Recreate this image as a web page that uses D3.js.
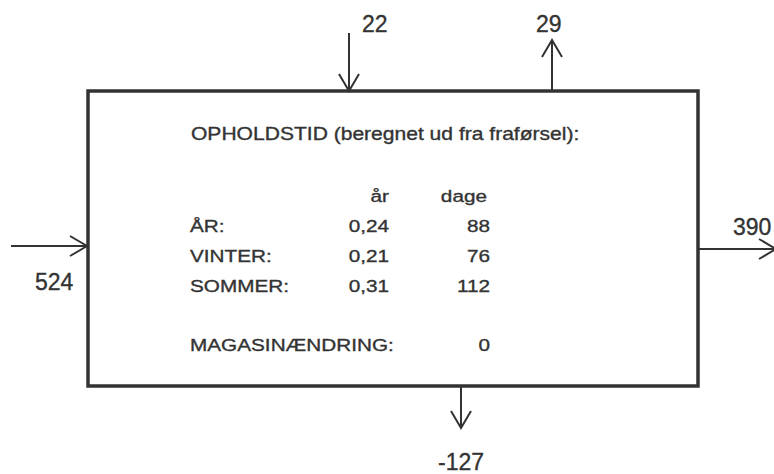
<!DOCTYPE html>
<html>
<head>
<meta charset="utf-8">
<script src="https://cdn.jsdelivr.net/npm/d3@7"></script>
<style>
  body { margin: 0; background: #fff; }
  text { font-family: "Liberation Sans", Arial, sans-serif; fill: #333; stroke: #333; stroke-width: 0.35px; }
</style>
</head>
<body>
<svg id="img1" width="774" height="474"></svg>
<script>
// data
const title = "OPHOLDSTID (beregnet ud fra fraførsel):";
const colHeaders = ["år", "dage"];
const rowLabels = ["ÅR:", "VINTER:", "SOMMER:"];
const aarValues = [0.24, 0.21, 0.31];
const dageValues = [88, 76, 112];
const magasinLabel = "MAGASINÆNDRING:";
const magasinValue = 0;
// flows: side of the box, direction, value
const flowSides = ["left", "top", "top", "right", "bottom"];
const flowDirs = ["in", "in", "out", "out", "out"];
const flowValues = [524, 22, 29, 390, -127];

let svg = d3.select("#img1");
const box = {x0: 88, x1: 698, y0: 91, y1: 386};
const ink = "#333";

svg.append("rect")
    .attr("x", box.x0).attr("y", box.y0)
    .attr("width", box.x1 - box.x0).attr("height", box.y1 - box.y0)
    .attr("fill", "none").attr("stroke", ink).attr("stroke-width", 3.5);

// the scanned lettering is a bit wider than Arial, so stretch it
function label(x, y, t, size, sx, anchor) {
    return svg.append("text")
        .attr("transform", `translate(${x},${y}) scale(${sx},1)`)
        .attr("text-anchor", anchor || "start")
        .style("font-size", size + "px")
        .text(t);
}

// where each flow sits along its side
const along = [246, 349, 552, 249, 461];

function arrowHead(tx, ty, dx, dy) {
    // open V head, tip at (tx,ty) pointing along (dx,dy)
    const l = 17, w = 10;
    const px = -dy, py = dx;
    return `M${tx - dx * l + px * w},${ty - dy * l + py * w}L${tx},${ty}L${tx - dx * l - px * w},${ty - dy * l - py * w}`;
}

let fmt = d3.format(".2f");
let comma = v => fmt(v).replace(".", ",");

flowValues.forEach((v, i) => {
    let side = flowSides[i], dir = flowDirs[i], p = along[i];
    let a, b, lx, ly;
    if (side === "left") {
        a = [11, p]; b = [box.x0 - 1, p];
        lx = 35; ly = 290;
    } else if (side === "right") {
        a = [box.x1, p]; b = [774, p];
        lx = 733; ly = 235;
    } else if (side === "top") {
        if (dir === "in") { a = [p, 33]; b = [p, box.y0]; lx = p + 13; }
        else { a = [p, box.y0]; b = [p, 40]; lx = p - 16; }
        ly = 32;
    } else {
        a = [p, box.y1]; b = [p, 428];
        lx = p - 23; ly = 470;
    }
    svg.append("line").attr("x1", a[0]).attr("y1", a[1]).attr("x2", b[0]).attr("y2", b[1])
        .attr("stroke", ink).attr("stroke-width", 2);
    let len = Math.hypot(b[0] - a[0], b[1] - a[1]);
    let dx = (b[0] - a[0]) / len, dy = (b[1] - a[1]) / len;
    let tip = side === "right" ? [b[0] + 2, b[1]] : b;
    svg.append("path").attr("d", arrowHead(tip[0], tip[1], dx, dy))
        .attr("fill", "none").attr("stroke", ink).attr("stroke-width", 2);
    label(lx, ly, v, 23, 1);
});

// table inside the box
label(191, 140, title, 18, 1.17);

let y = d3.scalePoint().domain(rowLabels).range([232, 292]);
let colRight = [389, 490];
const fs = 17, sx = 1.22;

label(colRight[0], 202, colHeaders[0], fs, sx, "end");
label(colRight[1] - 3, 202, colHeaders[1], fs, sx, "end");

rowLabels.forEach((r, i) => {
    label(190, y(r), r, fs, sx);
    label(colRight[0], y(r), comma(aarValues[i]), fs, sx, "end");
    label(colRight[1], y(r), dageValues[i], fs, sx, "end");
});

label(190, 351, magasinLabel, fs, sx);
label(colRight[1], 351, magasinValue, fs, sx, "end");
</script>
</body>
</html>
